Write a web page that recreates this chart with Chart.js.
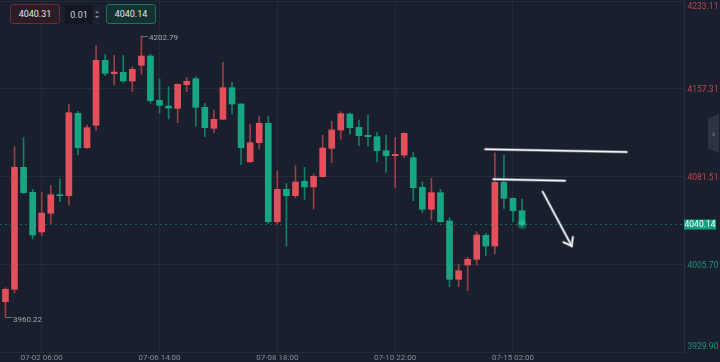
<!DOCTYPE html>
<html>
<head>
<meta charset="utf-8">
<script src="https://cdn.jsdelivr.net/npm/chart.js@4.4.1/dist/chart.umd.min.js"></script>
<style>
body { margin: 0; background: #191f2c; }
#wrap { position: relative; width: 720px; height: 362px; background: #191f2c; overflow: hidden; font-family: Roboto, "Noto Sans", sans-serif; }
canvas { position: absolute; left: 0; top: 0; }
.box { position: absolute; box-sizing: border-box; display: flex; align-items: center; justify-content: center; font-size: 9px; color: #e4e6ea; }
#sell { left: 10px; top: 4px; width: 50px; height: 20px; border: 1px solid #6e2b35; background: #2c1c26; border-radius: 3px; }
#lot { left: 65px; top: 5px; width: 28px; height: 19px; background: #121722; border-radius: 2px; color: #d2d4d8; }
#spin { left: 93px; top: 5px; width: 7px; height: 19px; background: #1d2330; flex-direction: column; gap: 3px; }
#spin i { display: block; width: 0; height: 0; border-left: 2px solid transparent; border-right: 2px solid transparent; }
#spin i.u { border-bottom: 2px solid #8d929c; }
#spin i.d { border-top: 2px solid #8d929c; }
#buy { left: 106px; top: 4px; width: 50px; height: 20px; border: 1px solid #1b7563; background: #15312f; border-radius: 3px; }
#tab { left: 708px; top: 114px; width: 11px; height: 39px; background: #2c3342; clip-path: polygon(0 12%, 100% 0, 100% 100%, 0 88%); color: #9aa0aa; font-size: 9px; }
</style>
</head>
<body>
<div id="wrap">
  <canvas id="chart" width="720" height="362"></canvas>
  <div class="box" id="sell">4040.31</div>
  <div class="box" id="lot">0.01</div>
  <div class="box" id="spin"><i class="u"></i><i class="d"></i></div>
  <div class="box" id="buy">4040.14</div>
  <div class="box" id="tab">&rsaquo;</div>
</div>
<script>
// 4h candles
const opens  = [3973.35, 3984.06, 4089.45, 4067.85, 4033.56, 4049.71, 4065.78, 4064.92, 4136.10, 4106.38,
                4125.73, 4181.88, 4170.30, 4171.51, 4164.00, 4177.56, 4185.59, 4147.33, 4142.40, 4140.42,
                4160.80, 4165.98, 4141.28, 4123.14, 4130.91, 4158.21, 4144.13, 4094.28, 4110.70, 4127.46,
                4042.45, 4070.44, 4064.92, 4077.35, 4072.43, 4081.33, 4105.86, 4121.67, 4135.49, 4124.00,
                4117.09, 4115.88, 4103.79, 4099.47, 4100.07, 4097.74, 4072.17, 4053.16, 4067.51, 4043.06,
                3992.70, 4005.05, 4009.98, 4030.71, 4021.46, 4076.49, 4062.67, 4051.95];
const highs  = [3985.44, 4107.25, 4115.02, 4070.44, 4067.85, 4073.90, 4079.34, 4143.53, 4137.82, 4125.99,
                4194.84, 4186.72, 4186.20, 4186.20, 4176.35, 4202.79, 4187.06, 4165.73, 4159.07, 4161.50,
                4167.19, 4167.71, 4144.73, 4138.95, 4180.15, 4162.88, 4144.60, 4126.25, 4133.50, 4133.50,
                4086.25, 4075.63, 4090.83, 4089.45, 4083.66, 4117.09, 4129.19, 4137.48, 4136.61, 4130.31,
                4134.63, 4119.34, 4117.35, 4115.36, 4119.30, 4102.41, 4076.75, 4079.95, 4070.44, 4045.91,
                4005.91, 4011.70, 4033.82, 4032.43, 4102.06, 4100.07, 4063.00, 4062.06];
const lows   = [3960.22, 3981.12, 4066.80, 4027.51, 4030.36, 4041.07, 4059.73, 4056.88, 4100.07, 4105.86,
                4121.07, 4168.58, 4160.55, 4162.88, 4154.75, 4170.05, 4144.73, 4136.35, 4131.17, 4127.97,
                4154.75, 4125.12, 4115.88, 4119.34, 4130.50, 4135.49, 4091.69, 4093.42, 4105.26, 4041.07,
                4040.21, 4021.46, 4063.19, 4061.80, 4053.43, 4081.00, 4093.42, 4113.72, 4118.21, 4108.11,
                4107.85, 4094.03, 4085.13, 4071.83, 4097.74, 4060.60, 4050.23, 4043.92, 4042.00, 3986.30,
                3986.30, 3982.85, 4005.05, 4013.08, 4014.55, 4054.03, 4042.45, 4040.14];
const closes = [3984.06, 4089.45, 4067.51, 4030.97, 4049.97, 4065.78, 4064.92, 4136.61, 4106.38, 4123.66,
                4181.88, 4170.65, 4171.77, 4164.00, 4174.10, 4185.59, 4146.98, 4143.01, 4140.67, 4161.15,
                4163.74, 4141.28, 4123.66, 4130.91, 4158.21, 4144.13, 4106.38, 4110.70, 4127.46, 4042.45,
                4070.44, 4064.92, 4076.75, 4072.43, 4081.67, 4106.12, 4121.67, 4135.75, 4123.66, 4116.74,
                4115.88, 4103.79, 4099.47, 4100.68, 4118.82, 4071.83, 4053.16, 4067.51, 4042.45, 3992.70,
                4000.13, 4009.98, 4030.97, 4021.46, 4076.49, 4062.67, 4051.95, 4040.14];

const tickIndex  = [4, 17, 30, 43, 56];
const tickLabels = ["07-02 06:00", "07-06 14:00", "07-08 18:00", "07-10 22:00", "07-15 02:00"];
const yTicks = [3929.90, 4005.70, 4081.51, 4157.31, 4233.11];
const lastPrice = 4040.14;

// hand drawn lines on the chart: [x0, price0, x1, price1] in candle index / price
const trendLines = [[52.95, 4105.00, 68.55, 4102.67], [53.83, 4079.09, 61.74, 4077.88]];
const arrowLine = [59.28, 4068.37, 62.48, 4021.47];

const idx = opens.map((_, i) => i);
const up = idx.map(i => closes[i] >= opens[i]);
const bodyColors = up.map(u => u ? "#e1505b" : "#17a683");
const wickColors = up.map(u => u ? "#9c3e47" : "#128068");

const RED_TXT = "#bf454e";
const GREEN_TXT = "#1b967c";

const overlay = {
    id: "overlay",
    afterDatasetsDraw(chart) {
        const { ctx, chartArea, scales: { x, y } } = chart;
        ctx.save();

        // last price dotted line
        const py = Math.round(y.getPixelForValue(lastPrice)) + 0.5;
        ctx.strokeStyle = "rgba(32,150,122,0.55)";
        ctx.lineWidth = 1;
        ctx.setLineDash([2, 3]);
        ctx.beginPath();
        ctx.moveTo(chartArea.left, py);
        ctx.lineTo(chartArea.right, py);
        ctx.stroke();
        ctx.setLineDash([]);

        // glow on the live candle
        const lx = x.getPixelForValue(idx.length - 1);
        const g = ctx.createRadialGradient(lx, py, 0, lx, py, 6);
        g.addColorStop(0, "rgba(40,220,170,0.7)");
        g.addColorStop(1, "rgba(40,220,170,0)");
        ctx.fillStyle = g;
        ctx.beginPath();
        ctx.arc(lx, py, 6, 0, Math.PI * 2);
        ctx.fill();

        // high / low markers
        ctx.font = "8px Roboto";
        ctx.fillStyle = "#a4a9b3";
        ctx.strokeStyle = "#6f7580";
        ctx.textAlign = "left";
        ctx.textBaseline = "middle";
        const hi = highs.indexOf(Math.max(...highs));
        const lo = lows.indexOf(Math.min(...lows));
        [[hi, highs[hi], 1.5], [lo, lows[lo], 2]].forEach(([i, v, dy]) => {
            const px = x.getPixelForValue(i);
            const vy = Math.round(y.getPixelForValue(v)) + 0.5;
            ctx.beginPath();
            ctx.moveTo(px, vy);
            ctx.lineTo(px + 6.5, vy);
            ctx.stroke();
            ctx.fillText(v.toFixed(2), px + 7.5, vy + dy);
        });

        // drawings
        const seg = (x0, y0, x1, y1) => {
            ctx.beginPath();
            ctx.moveTo(x0, y0);
            ctx.lineTo(x1, y1);
            ctx.stroke();
        };
        const paths = trendLines.map(l => [x.getPixelForValue(l[0]), y.getPixelForValue(l[1]), x.getPixelForValue(l[2]), y.getPixelForValue(l[3])]);
        const ax0 = x.getPixelForValue(arrowLine[0]), ay0 = y.getPixelForValue(arrowLine[1]);
        const ax1 = x.getPixelForValue(arrowLine[2]), ay1 = y.getPixelForValue(arrowLine[3]);
        const ang = Math.atan2(ay1 - ay0, ax1 - ax0);
        paths.push([ax0, ay0, ax1, ay1]);
        [-0.65, 0.62].forEach(d => {
            paths.push([ax1, ay1, ax1 - 9 * Math.cos(ang + d), ay1 - 9 * Math.sin(ang + d)]);
        });
        ctx.lineCap = "round";
        ctx.strokeStyle = "rgba(140,146,158,0.7)";
        ctx.lineWidth = 3;
        paths.forEach(p => seg(...p));
        ctx.strokeStyle = "#f4f5f7";
        ctx.lineWidth = 1.4;
        paths.forEach(p => seg(...p));

        ctx.restore();
    },
    afterDraw(chart) {
        const { ctx, chartArea, scales: { y } } = chart;
        ctx.save();
        ctx.font = "8.5px Roboto";
        ctx.textAlign = "left";
        yTicks.forEach((v, k) => {
            const ty = y.getPixelForValue(v);
            ctx.fillStyle = v > lastPrice ? RED_TXT : GREEN_TXT;
            if (k === yTicks.length - 1) {
                ctx.textBaseline = "top";
                ctx.fillText(v.toFixed(2), chartArea.right + 3.5, ty + 2);
            } else if (k === 0) {
                ctx.textBaseline = "bottom";
                ctx.fillText(v.toFixed(2), chartArea.right + 3.5, ty - 0.5);
            } else {
                ctx.textBaseline = "middle";
                ctx.fillText(v.toFixed(2), chartArea.right + 3.5, ty + 1.5);
            }
        });

        // last price tag
        const py = Math.round(y.getPixelForValue(lastPrice));
        ctx.fillStyle = "#12a081";
        ctx.fillRect(chartArea.right, py - 4.5, 32, 10);
        ctx.fillStyle = "#ffffff";
        ctx.textAlign = "center";
        ctx.textBaseline = "middle";
        ctx.fillText(lastPrice.toFixed(2), chartArea.right + 16, py + 0.8);
        ctx.restore();
    }
};

const gridColor = "#232a38";

new Chart(document.getElementById("chart"), {
    type: "bar",
    data: {
        datasets: [
            {
                label: "body",
                data: idx.map(i => ({ x: i, y: [opens[i], closes[i]] })),
                backgroundColor: bodyColors,
                barThickness: 6,
                minBarLength: 1,
                grouped: false,
                order: 1
            },
            {
                label: "wick",
                data: idx.map(i => ({ x: i, y: [lows[i], highs[i]] })),
                backgroundColor: wickColors,
                barThickness: 1,
                grouped: false,
                order: 2
            }
        ]
    },
    options: {
        responsive: false,
        animation: false,
        events: [],
        layout: { padding: { top: 1, left: 0, right: 0, bottom: 0 } },
        plugins: { legend: { display: false }, tooltip: { enabled: false } },
        scales: {
            x: {
                type: "linear",
                offset: false,
                min: -0.601,
                max: 74.87,
                afterBuildTicks: s => { s.ticks = tickIndex.map(v => ({ value: v })); },
                afterFit: s => { s.height = 10; },
                grid: { color: gridColor, drawTicks: false, offset: false },
                border: { display: false },
                ticks: {
                    autoSkip: false,
                    maxRotation: 0,
                    padding: 1.5,
                    color: "#868c98",
                    font: { family: "Roboto", size: 8 },
                    callback: v => tickLabels[tickIndex.indexOf(v)]
                }
            },
            y: {
                position: "right",
                min: 3929.90,
                max: 4233.11,
                afterBuildTicks: s => { s.ticks = yTicks.map(v => ({ value: v })); },
                afterFit: s => { s.width = 36; },
                grid: { color: gridColor, drawTicks: false },
                border: { display: true, color: "#2a3142" },
                ticks: { display: false }
            }
        }
    },
    plugins: [overlay]
});
</script>
</body>
</html>
